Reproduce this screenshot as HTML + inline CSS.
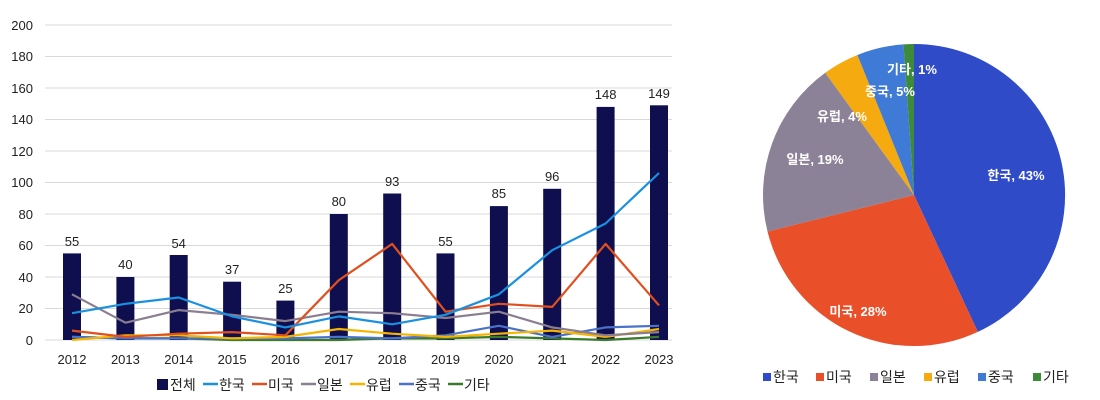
<!DOCTYPE html>
<html><head><meta charset="utf-8"><style>
body{margin:0;background:#fff;}
svg{display:block;font-family:"Liberation Sans","Noto Sans CJK KR",sans-serif;}
</style></head><body>
<svg width="1100" height="400" viewBox="0 0 1100 400">
<g stroke="#d9d9d9" stroke-width="1">
<line x1="45" y1="25" x2="672" y2="25"/><line x1="45" y1="56.5" x2="672" y2="56.5"/><line x1="45" y1="88" x2="672" y2="88"/><line x1="45" y1="119.5" x2="672" y2="119.5"/><line x1="45" y1="151" x2="672" y2="151"/><line x1="45" y1="182.5" x2="672" y2="182.5"/><line x1="45" y1="214" x2="672" y2="214"/><line x1="45" y1="245.5" x2="672" y2="245.5"/><line x1="45" y1="277" x2="672" y2="277"/><line x1="45" y1="308.5" x2="672" y2="308.5"/><line x1="45" y1="340" x2="672" y2="340"/>
</g>
<g font-size="13" fill="#222" text-anchor="end">
<text x="33" y="30">200</text><text x="33" y="61">180</text><text x="33" y="93">160</text><text x="33" y="124">140</text><text x="33" y="156">120</text><text x="33" y="187">100</text><text x="33" y="219">80</text><text x="33" y="250">60</text><text x="33" y="282">40</text><text x="33" y="313">20</text><text x="33" y="345">0</text>
</g>
<g fill="#0f0f4f">
<rect x="63" y="253.4" width="18" height="86.6"/><rect x="116.4" y="277" width="18" height="63"/><rect x="169.7" y="255" width="18" height="85"/><rect x="223.1" y="281.7" width="18" height="58.3"/><rect x="276.4" y="300.6" width="18" height="39.4"/><rect x="329.8" y="214" width="18" height="126"/><rect x="383.2" y="193.5" width="18" height="146.5"/><rect x="436.5" y="253.4" width="18" height="86.6"/><rect x="489.9" y="206.1" width="18" height="133.9"/><rect x="543.2" y="188.8" width="18" height="151.2"/><rect x="596.6" y="106.9" width="18" height="233.1"/><rect x="650" y="105.3" width="18" height="234.7"/>
</g>
<g font-size="13" fill="#222" text-anchor="middle">
<text x="72" y="246">55</text><text x="125.4" y="269">40</text><text x="178.7" y="248">54</text><text x="232.1" y="274">37</text><text x="285.4" y="293">25</text><text x="338.8" y="206">80</text><text x="392.2" y="186">93</text><text x="445.5" y="246">55</text><text x="498.9" y="198">85</text><text x="552.2" y="181">96</text><text x="605.6" y="99">148</text><text x="659" y="98">149</text>
</g>
<g fill="none" stroke-width="2.2" stroke-linejoin="round">
<polyline stroke="#3a7a2a" points="72,336.9 125.4,338.4 178.7,338.4 232.1,340 285.4,340 338.8,340 392.2,338.4 445.5,338.4 498.9,336.9 552.2,338.4 605.6,340 659,336.9"/>
<polyline stroke="#4a72c8" points="72,336.9 125.4,338.4 178.7,338.4 232.1,338.4 285.4,338.4 338.8,336.9 392.2,338.4 445.5,335.3 498.9,325.8 552.2,336.9 605.6,327.4 659,325.8"/>
<polyline stroke="#f5b400" points="72,340 125.4,335.3 178.7,335.3 232.1,338.4 285.4,336.9 338.8,329 392.2,333.7 445.5,336.9 498.9,333.7 552.2,330.6 605.6,336.9 659,329"/>
<polyline stroke="#8a7e90" points="72,294.3 125.4,322.7 178.7,310.1 232.1,314.8 285.4,321.1 338.8,311.7 392.2,313.2 445.5,318 498.9,311.7 552.2,327.4 605.6,335.3 659,332.1"/>
<polyline stroke="#e0501e" points="72,330.6 125.4,336.9 178.7,333.7 232.1,332.1 285.4,335.3 338.8,280.2 392.2,243.9 445.5,311.7 498.9,303.8 552.2,306.9 605.6,243.9 659,305.4"/>
<polyline stroke="#1a90e0" points="72,313.2 125.4,303.8 178.7,297.5 232.1,316.4 285.4,327.4 338.8,316.4 392.2,324.3 445.5,314.8 498.9,294.3 552.2,250.2 605.6,223.5 659,173"/>
</g>
<g font-size="13" fill="#222" text-anchor="middle">
<text x="72" y="364">2012</text><text x="125.4" y="364">2013</text><text x="178.7" y="364">2014</text><text x="232.1" y="364">2015</text><text x="285.4" y="364">2016</text><text x="338.8" y="364">2017</text><text x="392.2" y="364">2018</text><text x="445.5" y="364">2019</text><text x="498.9" y="364">2020</text><text x="552.2" y="364">2021</text><text x="605.6" y="364">2022</text><text x="659" y="364">2023</text>
</g>
<g font-size="14" fill="#222">
<rect x="157" y="379" width="11" height="11" fill="#0f0f4f"/><text x="170" y="390">전체</text>
<line x1="203" y1="384" x2="218" y2="384" stroke="#1a90e0" stroke-width="2.5"/><text x="219" y="390">한국</text>
<line x1="252" y1="384" x2="267" y2="384" stroke="#e0501e" stroke-width="2.5"/><text x="268" y="390">미국</text>
<line x1="301" y1="384" x2="316" y2="384" stroke="#8a7e90" stroke-width="2.5"/><text x="317" y="390">일본</text>
<line x1="350" y1="384" x2="365" y2="384" stroke="#f5b400" stroke-width="2.5"/><text x="366" y="390">유럽</text>
<line x1="399" y1="384" x2="414" y2="384" stroke="#4a72c8" stroke-width="2.5"/><text x="415" y="390">중국</text>
<line x1="448" y1="384" x2="463" y2="384" stroke="#3a7a2a" stroke-width="2.5"/><text x="464" y="390">기타</text>
</g>
<g stroke="none">
<path d="M914,195 L914,44 A151,151 0 0 1 977.8,331.9 Z" fill="#2f4bc8"/>
<path d="M914,195 L977.8,331.9 A151,151 0 0 1 767.5,231.5 Z" fill="#e9502a"/>
<path d="M914,195 L767.5,231.5 A151,151 0 0 1 825.2,72.8 Z" fill="#8c8298"/>
<path d="M914,195 L825.2,72.8 A151,151 0 0 1 857.4,55 Z" fill="#f5aa10"/>
<path d="M914,195 L857.4,55 A151,151 0 0 1 903.5,44.4 Z" fill="#3f7ad6"/>
<path d="M914,195 L903.5,44.4 A151,151 0 0 1 914,44 Z" fill="#3d8a3a"/>
</g>
<g font-size="13" fill="#fff" font-weight="bold" text-anchor="middle">
<text x="1016" y="180">한국, 43%</text>
<text x="858" y="316">미국, 28%</text>
<text x="815" y="164">일본, 19%</text>
<text x="842" y="121">유럽, 4%</text>
<text x="890" y="96">중국, 5%</text>
<text x="912" y="74">기타, 1%</text>
</g>
<g font-size="14" fill="#222">
<rect x="763" y="373" width="8" height="8" fill="#2f4bc8"/><text x="773" y="382">한국</text>
<rect x="816" y="373" width="8" height="8" fill="#e9502a"/><text x="826" y="382">미국</text>
<rect x="870" y="373" width="8" height="8" fill="#8c8298"/><text x="880" y="382">일본</text>
<rect x="924" y="373" width="8" height="8" fill="#f5aa10"/><text x="934" y="382">유럽</text>
<rect x="978" y="373" width="8" height="8" fill="#3f7ad6"/><text x="988" y="382">중국</text>
<rect x="1033" y="373" width="8" height="8" fill="#3d8a3a"/><text x="1043" y="382">기타</text>
</g>
</svg>
</body></html>
